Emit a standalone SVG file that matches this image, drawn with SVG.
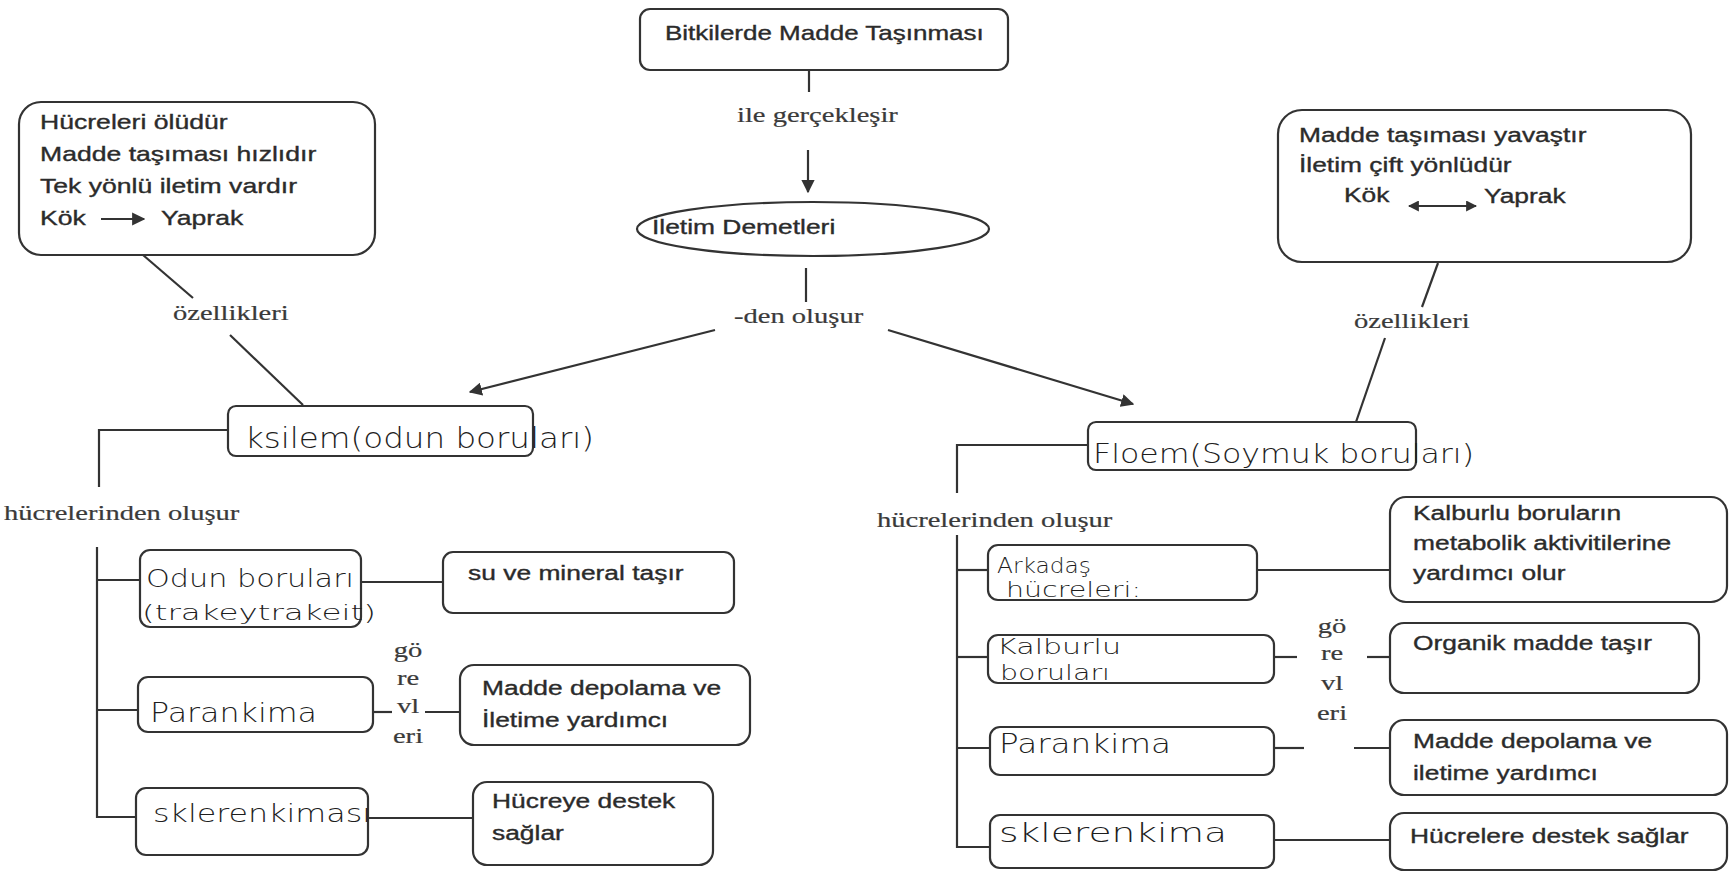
<svg xmlns="http://www.w3.org/2000/svg" width="1731" height="875" viewBox="0 0 1731 875">
<defs>
<style>
.bx{fill:#fff;stroke:#333;stroke-width:2.2}
.ln{fill:none;stroke:#333;stroke-width:2.2}
.s{font-family:"Liberation Sans",Arial,sans-serif;font-size:20px;fill:#2b2b2b;stroke:#2b2b2b;stroke-width:0.35}
.r{font-family:"Liberation Serif","Times New Roman",serif;font-size:21px;fill:#3a3a3a;stroke:#3a3a3a;stroke-width:0.2}
.h{font-family:"DejaVu Sans",sans-serif;font-weight:200;fill:#1e1e1e}
</style>
<marker id="ah" viewBox="0 0 10 10" refX="9" refY="5" markerWidth="6" markerHeight="6" orient="auto" markerUnits="strokeWidth">
<path d="M0,0 L10,5 L0,10 z" fill="#333"/>
</marker>
<marker id="ah2" viewBox="0 0 10 10" refX="9" refY="5" markerWidth="5" markerHeight="5" orient="auto-start-reverse" markerUnits="strokeWidth">
<path d="M0,0 L10,5 L0,10 z" fill="#333"/>
</marker>
</defs>
<rect width="1731" height="875" fill="#fff"/>

<g id="connectors">
<path class="ln" d="M809,70 V92"/>
<path class="ln" d="M808,150 V192" marker-end="url(#ah)"/>
<path class="ln" d="M806,268 V302"/>
<path class="ln" d="M715,330 L470,392" marker-end="url(#ah)"/>
<path class="ln" d="M888,330 L1133,404" marker-end="url(#ah)"/>
<path class="ln" d="M143,255 L193,298"/>
<path class="ln" d="M230,335 L303,405"/>
<path class="ln" d="M1438,263 L1422,307"/>
<path class="ln" d="M1385,338 L1356,422"/>
<path class="ln" d="M228,430 H99 V487"/>
<path class="ln" d="M97,547 V817 H136"/>
<path class="ln" d="M97,580 H140"/>
<path class="ln" d="M97,710 H138"/>
<path class="ln" d="M361,582 H443"/>
<path class="ln" d="M373,712 H392"/>
<path class="ln" d="M425,712 H460"/>
<path class="ln" d="M368,818 H473"/>
<path class="ln" d="M1088,445 H957 V493"/>
<path class="ln" d="M957,535 V847 H990"/>
<path class="ln" d="M957,570 H988"/>
<path class="ln" d="M957,657 H988"/>
<path class="ln" d="M957,748 H990"/>
<path class="ln" d="M1257,570 H1390"/>
<path class="ln" d="M1274,657 H1297"/>
<path class="ln" d="M1367,657 H1390"/>
<path class="ln" d="M1274,748 H1304"/>
<path class="ln" d="M1354,748 H1390"/>
<path class="ln" d="M1274,840 H1390"/>
</g>

<g id="labels">
<text class="r" transform="matrix(1.36 0 0 1 737 122)">ile gerçekleşir</text>
<text class="r" transform="matrix(1.36 0 0 1 734 323)">-den oluşur</text>
<text class="r" transform="matrix(1.36 0 0 1 173 320)">özellikleri</text>
<text class="r" transform="matrix(1.36 0 0 1 1354 328)">özellikleri</text>
<text class="r" transform="matrix(1.36 0 0 1 4 520)">hücrelerinden oluşur</text>
<text class="r" transform="matrix(1.36 0 0 1 877 527)">hücrelerinden oluşur</text>
<g text-anchor="middle">
<text class="r" transform="matrix(1.36 0 0 1 408 657)">gö</text>
<text class="r" transform="matrix(1.36 0 0 1 408 685)">re</text>
<text class="r" transform="matrix(1.36 0 0 1 408 713)">vl</text>
<text class="r" transform="matrix(1.36 0 0 1 408 743)">eri</text>
<text class="r" transform="matrix(1.36 0 0 1 1332 633)">gö</text>
<text class="r" transform="matrix(1.36 0 0 1 1332 660)">re</text>
<text class="r" transform="matrix(1.36 0 0 1 1332 690)">vl</text>
<text class="r" transform="matrix(1.36 0 0 1 1332 720)">eri</text>
</g>
</g>

<g id="n-top">
<rect class="bx" x="640" y="9" width="368" height="61" rx="10"/>
<text class="s" transform="matrix(1.3 0 0 1 665 40)">Bitkilerde Madde Taşınması</text>
</g>

<g id="n-demet">
<ellipse class="bx" cx="813" cy="229" rx="176" ry="27"/>
<text class="s" transform="matrix(1.32 0 0 1 652 234)">İletim Demetleri</text>
</g>

<g id="n-ksilem-ozellik">
<rect class="bx" x="19" y="102" width="356" height="153" rx="22"/>
<text class="s" transform="matrix(1.33 0 0 1 40 129)">Hücreleri ölüdür</text>
<text class="s" transform="matrix(1.33 0 0 1 40 161)">Madde taşıması hızlıdır</text>
<text class="s" transform="matrix(1.33 0 0 1 40 193)">Tek yönlü iletim vardır</text>
<text class="s" transform="matrix(1.33 0 0 1 40 225)">Kök</text>
<path class="ln" d="M101,219 H144" marker-end="url(#ah)"/>
<text class="s" transform="matrix(1.33 0 0 1 161 225)">Yaprak</text>
</g>

<g id="n-floem-ozellik">
<rect class="bx" x="1278" y="110" width="413" height="152" rx="24"/>
<text class="s" transform="matrix(1.32 0 0 1 1299 142)">Madde taşıması yavaştır</text>
<text class="s" transform="matrix(1.32 0 0 1 1299 172)">İletim çift yönlüdür</text>
<text class="s" transform="matrix(1.32 0 0 1 1344 202)">Kök</text>
<path class="ln" d="M1409,206 H1476" marker-start="url(#ah2)" marker-end="url(#ah2)"/>
<text class="s" transform="matrix(1.32 0 0 1 1484 203)">Yaprak</text>
</g>

<g id="n-ksilem">
<rect class="bx" x="228" y="406" width="305" height="50" rx="8"/>
<text class="h" x="245" y="448" font-size="28" textLength="349" lengthAdjust="spacingAndGlyphs">ksilem(odun boruları)</text>
</g>

<g id="n-floem">
<rect class="bx" x="1088" y="422" width="328" height="48" rx="8"/>
<text class="h" x="1093" y="463" font-size="27" textLength="381" lengthAdjust="spacingAndGlyphs">Floem(Soymuk boruları)</text>
</g>

<g id="n-odun">
<rect class="bx" x="140" y="550" width="221" height="77" rx="10"/>
<text class="h" x="146" y="587" font-size="24" textLength="208" lengthAdjust="spacingAndGlyphs">Odun boruları</text>
<text class="h" x="142" y="620" font-size="22" textLength="234" lengthAdjust="spacingAndGlyphs">(trakeytrakeit)</text>
</g>

<g id="n-su">
<rect class="bx" x="443" y="552" width="291" height="61" rx="10"/>
<text class="s" transform="matrix(1.32 0 0 1 468 580)">su ve mineral taşır</text>
</g>

<g id="n-parankima-l">
<rect class="bx" x="138" y="677" width="235" height="55" rx="10"/>
<text class="h" x="150" y="722" font-size="26" textLength="167" lengthAdjust="spacingAndGlyphs">Parankima</text>
</g>

<g id="n-depolama-l">
<rect class="bx" x="460" y="665" width="290" height="80" rx="14"/>
<text class="s" transform="matrix(1.32 0 0 1 482 695)">Madde depolama ve</text>
<text class="s" transform="matrix(1.32 0 0 1 482 727)">İletime yardımcı</text>
</g>

<g id="n-sklerenkimasi">
<rect class="bx" x="136" y="788" width="232" height="67" rx="10"/>
<text class="h" x="153" y="822" font-size="24" textLength="218" lengthAdjust="spacingAndGlyphs">sklerenkiması</text>
</g>

<g id="n-hucreye">
<rect class="bx" x="473" y="782" width="240" height="83" rx="14"/>
<text class="s" transform="matrix(1.32 0 0 1 492 808)">Hücreye destek</text>
<text class="s" transform="matrix(1.32 0 0 1 492 840)">sağlar</text>
</g>

<g id="n-arkadas">
<rect class="bx" x="988" y="545" width="269" height="55" rx="10"/>
<text class="h" x="997" y="573" font-size="22" textLength="94" lengthAdjust="spacingAndGlyphs">Arkadaş</text>
<text class="h" x="1006" y="597" font-size="22" textLength="135" lengthAdjust="spacingAndGlyphs">hücreleri:</text>
</g>

<g id="n-kalburlu-gorev">
<rect class="bx" x="1390" y="497" width="337" height="105" rx="16"/>
<text class="s" transform="matrix(1.32 0 0 1 1413 520)">Kalburlu boruların</text>
<text class="s" transform="matrix(1.32 0 0 1 1413 550)">metabolik aktivitilerine</text>
<text class="s" transform="matrix(1.32 0 0 1 1413 580)">yardımcı olur</text>
</g>

<g id="n-kalburlu">
<rect class="bx" x="988" y="635" width="286" height="48" rx="10"/>
<text class="h" x="997" y="654" font-size="22" textLength="124" lengthAdjust="spacingAndGlyphs">Kalburlu</text>
<text class="h" x="1000" y="680" font-size="22" textLength="110" lengthAdjust="spacingAndGlyphs">boruları</text>
</g>

<g id="n-organik">
<rect class="bx" x="1390" y="623" width="309" height="70" rx="14"/>
<text class="s" transform="matrix(1.32 0 0 1 1413 650)">Organik madde taşır</text>
</g>

<g id="n-parankima-r">
<rect class="bx" x="990" y="727" width="284" height="48" rx="10"/>
<text class="h" x="999" y="753" font-size="26" textLength="172" lengthAdjust="spacingAndGlyphs">Parankima</text>
</g>

<g id="n-depolama-r">
<rect class="bx" x="1390" y="720" width="337" height="75" rx="14"/>
<text class="s" transform="matrix(1.32 0 0 1 1413 748)">Madde depolama ve</text>
<text class="s" transform="matrix(1.32 0 0 1 1413 780)">iletime yardımcı</text>
</g>

<g id="n-sklerenkima">
<rect class="bx" x="990" y="815" width="284" height="53" rx="10"/>
<text class="h" x="999" y="842" font-size="26" textLength="228" lengthAdjust="spacingAndGlyphs">sklerenkima</text>
</g>

<g id="n-hucrelere">
<rect class="bx" x="1390" y="813" width="337" height="57" rx="14"/>
<text class="s" transform="matrix(1.32 0 0 1 1410 843)">Hücrelere destek sağlar</text>
</g>
</svg>
